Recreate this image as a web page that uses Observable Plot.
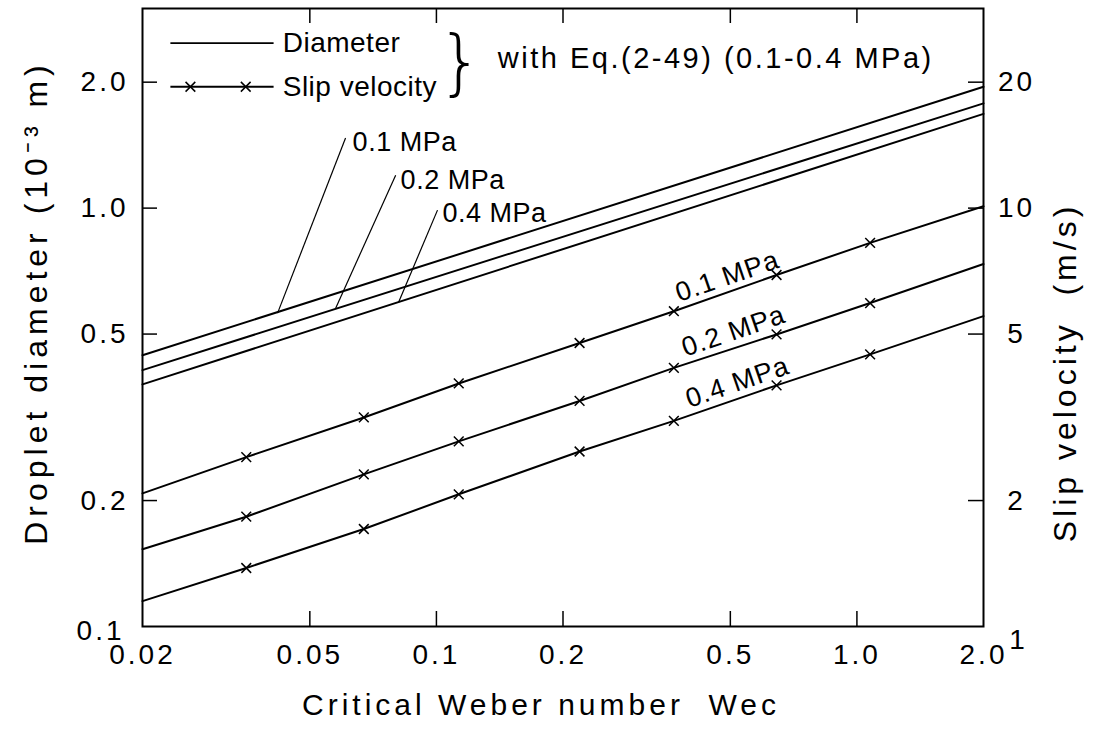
<!DOCTYPE html>
<html><head><meta charset="utf-8">
<script src="https://cdn.jsdelivr.net/npm/d3@7"></script>
<script src="https://cdn.jsdelivr.net/npm/@observablehq/plot@0.6"></script>
<style>
body{margin:0;background:#fff}
</style>
</head><body><div id="chart"></div>
<script>
// ---- data ----
const pressures = ["0.1 MPa", "0.2 MPa", "0.4 MPa"];
// Droplet diameter (10^-3 m), straight lines in log-log
const diamWec = [0.02, 2.0];
const diam01 = [0.445, 1.95];
const diam02 = [0.41, 1.78];
const diam04 = [0.379, 1.68];
// Slip velocity (m/s): line ends + marker points
const slipWec = [0.02, 0.0353, 0.0672, 0.113, 0.219, 0.367, 0.644, 1.075, 2.0];
const slip01 = [2.08, 2.54, 3.16, 3.81, 4.76, 5.67, 6.92, 8.26, 10.1];
const slip02 = [1.53, 1.83, 2.31, 2.77, 3.46, 4.15, 4.99, 5.93, 7.35];
const slip04 = [1.15, 1.38, 1.71, 2.07, 2.62, 3.10, 3.77, 4.47, 5.52];
const markerIdx = [1, 2, 3, 4, 5, 6, 7];
// ticks
const xTicks = [0.02, 0.05, 0.1, 0.2, 0.5, 1, 2];
const xTickLabels = ["0.02", "0.05", "0.1", "0.2", "0.5", "1.0", "2.0"];
const yTicks = [0.1, 0.2, 0.5, 1, 2];
const yTickLabels = ["0.1", "0.2", "0.5", "1.0", "2.0"];
const vTicks = [1, 2, 5, 10, 20];
const vTickLabels = ["1", "2", "5", "10", "20"];
// annotation anchors in data units (Wec, diameter)
const diamLabelX = [0.0632, 0.0822, 0.1034];
const diamLabelY = [1.439, 1.167, 0.973];
const leaderX1 = [0.0608, 0.0800, 0.1006];
const leaderY1 = [1.471, 1.199, 0.989];
const leaderX2 = [0.0419, 0.0576, 0.0813];
const leaderY2 = [0.561, 0.5766, 0.5958];
const slipLabelX = [0.492, 0.509, 0.520];
const slipLabelV = [6.87, 5.08, 3.835];
const legendLineX = [0.0233, 0.041];
const legendY = [2.48, 1.95];
const legendMarkX = [0.026, 0.0352];
const legendText = ["Diameter", "Slip velocity"];
const legendTextX = 0.0431;
const braceX = 0.114, braceY = 2.22;
const eqText = "with Eq.(2-49) (0.1-0.4 MPa)";
const eqX = 0.140, eqY = 2.28;

// ---- tables ----
const diamSeries = [diam01, diam02, diam04];
const slipSeries = [slip01, slip02, slip04];
const diamRows = diamSeries.flatMap((s, k) => s.map((v, i) => ({p: pressures[k], x: diamWec[i], y: v})));
const slipRows = slipSeries.flatMap((s, k) => s.map((v, i) => ({p: pressures[k], i, x: slipWec[i], v})));
const markerRows = slipRows.filter(d => markerIdx.includes(d.i));

const W = 1103, H = 738, mL = 142, mR = 120, mT = 8, mB = 112;
const pw = W - mL - mR, ph = H - mT - mB;
const tick = 15;
const font = "Liberation Sans, Arial, sans-serif";
// letter spacing for each text mark, in drawing order
const spacing = [3, 3, 3, 3, 3, 4, 5, 4, 0.5, 1, 0.5, 0, 2.5];

const chart = Plot.plot({
  width: W, height: H,
  marginLeft: mL, marginRight: mR, marginTop: mT, marginBottom: mB,
  style: {fontFamily: font, background: "#fff", color: "#000"},
  x: {type: "log", domain: [0.02, 2], axis: null},
  y: {type: "log", domain: [0.1, 3], axis: null},
  marks: [
    Plot.frame({stroke: "#000", strokeWidth: 2}),
    // inward ticks
    Plot.ruleY(yTicks.slice(1), {y: d => d, insetRight: pw - tick, stroke: "#000", strokeWidth: 1.5}),
    Plot.ruleY(vTicks.slice(1), {y: d => d / 10, insetLeft: pw - tick, stroke: "#000", strokeWidth: 1.5}),
    Plot.ruleX(xTicks.slice(1, -1), {x: d => d, insetTop: ph - tick, stroke: "#000", strokeWidth: 1.5}),
    Plot.ruleX(xTicks.slice(1, -1), {x: d => d, insetBottom: ph - tick, stroke: "#000", strokeWidth: 1.5}),
    // tick labels
    Plot.text(xTicks, {x: d => d, text: (d, i) => xTickLabels[i], frameAnchor: "bottom", dy: 37, fontSize: 28}),
    Plot.text(yTicks.slice(1), {y: d => d, text: (d, i) => yTickLabels[i + 1], frameAnchor: "left", textAnchor: "end", dx: -14, fontSize: 28}),
    Plot.text(yTicks.slice(0, 1), {y: d => d, text: (d, i) => yTickLabels[i], frameAnchor: "left", textAnchor: "end", dx: -18, dy: 5, fontSize: 28}),
    Plot.text(vTicks.slice(1), {y: d => d / 10, text: (d, i) => vTickLabels[i + 1], frameAnchor: "right", textAnchor: "middle", dx: 33, fontSize: 28}),
    Plot.text(vTicks.slice(0, 1), {y: d => d / 10, text: (d, i) => vTickLabels[i], frameAnchor: "right", textAnchor: "middle", dx: 35, dy: 14, fontSize: 28}),
    // axis titles
    Plot.text(["Critical Weber number  Wec"], {text: d => d, frameAnchor: "bottom", dx: -22, dy: 88, fontSize: 30}),
    Plot.text(["Droplet diameter (10\u207B\u00B3 m)"], {text: d => d, frameAnchor: "left", textAnchor: "middle", dx: -106, dy: -15, rotate: -90, fontSize: 32}),
    Plot.text(["Slip velocity  (m/s)"], {text: d => d, frameAnchor: "right", textAnchor: "middle", dx: 82, dy: 55, rotate: -90, fontSize: 32}),
    // data lines
    Plot.line(diamRows, {x: "x", y: "y", z: "p", stroke: "#000", strokeWidth: 2}),
    Plot.line(slipRows, {x: "x", y: d => d.v / 10, z: "p", stroke: "#000", strokeWidth: 2}),
    Plot.dot(markerRows, {x: "x", y: d => d.v / 10, symbol: "times", r: 4.5, stroke: "#000", strokeWidth: 1.5, fill: "#fff"}),
    // diameter labels with leaders
    Plot.link(pressures, {x1: (d, i) => leaderX1[i], y1: (d, i) => leaderY1[i], x2: (d, i) => leaderX2[i], y2: (d, i) => leaderY2[i], stroke: "#000", strokeWidth: 1.2}),
    Plot.text(pressures, {x: (d, i) => diamLabelX[i], y: (d, i) => diamLabelY[i], text: d => d, textAnchor: "start", fontSize: 27}),
    // slip labels
    Plot.text(pressures, {x: (d, i) => slipLabelX[i], y: (d, i) => slipLabelV[i] / 10, text: d => d, rotate: -19, fontSize: 27}),
    // legend
    Plot.link(legendY, {x1: legendLineX[0], x2: legendLineX[1], y1: d => d, y2: d => d, stroke: "#000", strokeWidth: 1.8}),
    Plot.dot(legendMarkX, {x: d => d, y: legendY[1], symbol: "times", r: 4.5, stroke: "#000", strokeWidth: 1.5}),
    Plot.text(legendText, {x: legendTextX, y: (d, i) => legendY[i], text: d => d, textAnchor: "start", fontSize: 28}),
    Plot.text(["}"], {x: braceX, y: braceY, text: d => d, fontSize: 72, fontFamily: "DejaVu Sans", fontWeight: 200}),
    Plot.text([eqText], {x: eqX, y: eqY, text: d => d, textAnchor: "start", fontSize: 29})
  ]
});
chart.querySelectorAll('g[aria-label="text"]').forEach((g, i) => {
  if (spacing[i]) g.style.letterSpacing = spacing[i] + "px";
});
document.getElementById("chart").append(chart);
</script>
</body></html>
